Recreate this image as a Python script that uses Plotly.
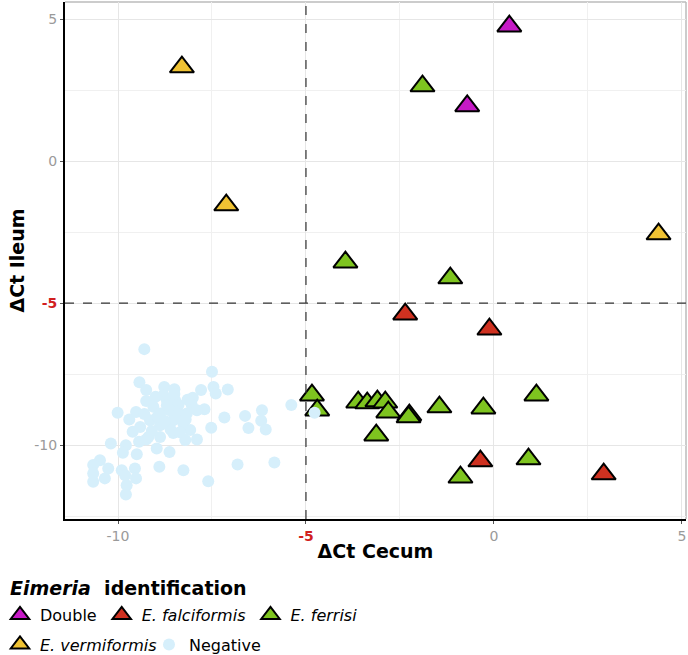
import plotly.graph_objects as go

# ---- data ----
double_x = [0.41, -0.71]
double_y = [4.75, 1.94]

falci_x = [-2.36, -0.12, -0.36, 2.92]
falci_y = [-5.39, -5.92, -10.56, -11.02]

ferrisi_x = [-1.90, -3.95, -1.16, -4.84, -4.70, -3.61, -3.37, -3.10, -2.89, -2.81,
             -2.25, -2.27, -3.13, -1.45, -0.28, 1.13, -0.89, 0.92]
ferrisi_y = [2.64, -3.56, -4.12, -8.24, -8.77, -8.49, -8.52, -8.45, -8.49, -8.84,
             -8.94, -9.01, -9.65, -8.66, -8.70, -8.24, -11.13, -10.49]

verm_x = [-8.30, -7.12, 4.38]
verm_y = [3.31, -1.55, -2.57]

neg_x = [-9.30, -7.50, -9.43, -9.25, -8.77, -8.50, -8.79, -7.79, -7.46, -7.40,
         -7.08, -8.01, -9.25, -5.39, -10.01, -9.52, -9.70, -6.17, -6.62, -7.17,
         -7.70, -6.19, -6.53, -6.07, -7.52, -9.61, -10.19, -9.79, -9.87, -9.50,
         -8.97, -8.63, -9.44, -9.25, -8.21, -7.90, -8.53, -10.48, -10.66, -10.66,
         -10.66, -10.35, -10.26, -9.90, -9.55, -9.52, -9.81, -9.77, -9.79, -8.90,
         -8.26, -7.60, -6.82, -5.84, -4.77, -9.06, -8.88, -8.62, -8.39, -8.17,
         -8.04, -7.90, -9.15, -8.88, -8.53, -8.26, -8.08, -8.88, -9.19, -9.41,
         -8.70, -8.48, -9.00, -8.70, -8.40, -8.20, -8.95, -9.30, -8.60, -8.35,
         -8.15, -9.10, -8.75, -8.50]
neg_y = [-6.62, -7.42, -7.79, -8.06, -7.95, -8.03, -8.24, -8.06, -7.95, -8.18,
         -8.04, -8.33, -8.45, -8.59, -8.86, -8.83, -9.10, -8.77, -8.97, -9.03,
         -8.74, -9.14, -9.40, -9.45, -9.39, -9.53, -9.94, -10.00, -10.27, -10.32,
         -10.12, -10.24, -9.88, -9.80, -9.82, -9.80, -9.57, -10.53, -10.70, -11.00,
         -11.29, -11.17, -10.82, -10.88, -10.82, -11.17, -11.06, -11.41, -11.74, -10.76,
         -10.88, -11.27, -10.68, -10.61, -8.86, -8.65, -8.89, -8.77, -8.59, -8.89,
         -8.59, -8.77, -9.12, -9.30, -9.12, -9.24, -9.47, -9.71, -9.71, -9.36,
         -8.42, -8.42, -8.30, -8.60, -8.90, -9.10, -9.00, -8.90, -9.45, -9.55,
         -8.40, -9.50, -9.15, -8.20]

threshold = -5
tick_vals = [-10, -5, 0, 5]
RED = "#d11f1f"
tick_text = ["-10", f'<span style="color:{RED}"><b>-5</b></span>', "0", "5"]

FONT = "DejaVu Sans"

fig = go.Figure()

def tri(x, y, name, color, legend="legend"):
    fig.add_trace(go.Scatter(
        x=x, y=y, mode="markers", name=name, legend=legend,
        marker=dict(symbol="triangle-up", size=21, color=color,
                    line=dict(color="black", width=2))))

tri(double_x, double_y, "Double", "#c61ac6")
tri(falci_x, falci_y, "<i>E. falciformis</i>", "#cf3120")
tri(ferrisi_x, ferrisi_y, "<i>E. ferrisi</i>", "#7ec41f")
tri(verm_x, verm_y, "<i>E. vermiformis</i>", "#efc233", legend="legend2")
fig.add_trace(go.Scatter(
    x=neg_x, y=neg_y, mode="markers", name="Negative", legend="legend2",
    marker=dict(symbol="circle", size=12, color="#d6effb", line=dict(width=0))))

# reference dashed lines
fig.add_shape(type="line", xref="x", yref="paper", x0=threshold, x1=threshold, y0=0, y1=1,
              line=dict(color="#333333", width=1.2, dash="dash"))
fig.add_shape(type="line", xref="paper", yref="y", x0=0, x1=1, y0=threshold, y1=threshold,
              line=dict(color="#333333", width=1.2, dash="dash"))
# light border top/right
fig.add_shape(type="line", xref="paper", yref="paper", x0=0, x1=1, y0=1, y1=1,
              line=dict(color="#bbbbbb", width=1.5), layer="below")
fig.add_shape(type="line", xref="paper", yref="paper", x0=1, x1=1, y0=0, y1=1,
              line=dict(color="#bbbbbb", width=1.5), layer="below")

axis_common = dict(
    tickvals=tick_vals, ticktext=tick_text,
    showgrid=True, gridcolor="#e6e6e6", gridwidth=1,
    minor=dict(dtick=2.5, tick0=0, showgrid=True, gridcolor="#f0f0f0", gridwidth=0.8),
    zeroline=False, automargin=False,
    showline=True, linecolor="black", linewidth=2,
    ticks="outside", ticklen=3, tickcolor="#555555", tickwidth=1,
    tickfont=dict(family=FONT, size=14, color="#9a9a9a"),
)

fig.update_layout(
    width=688, height=655,
    margin=dict(l=65, r=2, t=2, b=136),
    paper_bgcolor="white", plot_bgcolor="white",
    font=dict(family=FONT, color="black"),
    xaxis=dict(range=[-11.41, 5.11],
               title=dict(text="<b>ΔCt Cecum</b>", font=dict(family=FONT, size=19), standoff=2),
               **axis_common),
    yaxis=dict(range=[-12.6, 5.6],
               title=dict(text="<b>ΔCt Ileum</b>", font=dict(family=FONT, size=19), standoff=5),
               **axis_common),
    showlegend=True,
    legend=dict(
        orientation="h", xref="container", yref="container",
        x=0, y=0.087, xanchor="left", yanchor="top",
        font=dict(family=FONT, size=16), itemwidth=30,
        bgcolor="rgba(0,0,0,0)"),
    legend2=dict(
        orientation="h", xref="container", yref="container",
        x=0, y=0.042, xanchor="left", yanchor="top",
        font=dict(family=FONT, size=16), itemwidth=30,
        entrywidth=104, entrywidthmode="pixels",
        bgcolor="rgba(0,0,0,0)"),
    annotations=[dict(
        text="<b><i>Eimeria</i>  identification</b>", xref="paper", yref="paper",
        x=-57 / 621, y=-(588 - 519) / 517, xanchor="left", yanchor="middle",
        showarrow=False, font=dict(family=FONT, size=19, color="black"))],
)

fig.write_html("out.html",
               config={"displayModeBar": False},
               post_script="document.body.style.margin='0px';document.body.style.overflow='hidden';")
